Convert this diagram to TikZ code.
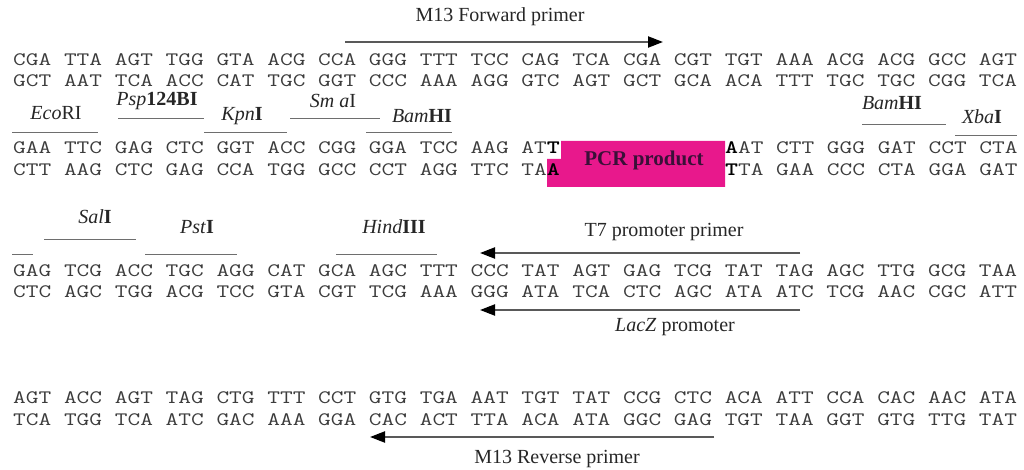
\documentclass[tikz,border=0pt]{standalone}
\usepackage{fontspec}
\usepackage{graphicx}
\setmainfont{Liberation Serif}
\usetikzlibrary{arrows.meta}
\definecolor{pcrpink}{HTML}{E8188C}
\definecolor{pcrtext}{HTML}{3A1038}
\definecolor{seqgray}{HTML}{3C3C3C}
\definecolor{linegray}{HTML}{6E6E6E}
\newcommand\dnarow[1]{\scalebox{1.2986}[1]{#1}}
\newcommand\bl[1]{\textbf{\color{black}#1}}
\begin{document}
\begin{tikzpicture}[x=1pt,y=-1pt,
  seq/.style={anchor=west,inner sep=0pt,font=\ttfamily\fontsize{19}{19}\selectfont,text=seqgray},
  lab/.style={inner sep=0pt,font=\fontsize{20}{20}\selectfont,text=black!85},
  site/.style={draw=linegray,line width=0.9pt},
  primer/.style={draw=black!65,line width=2.2pt,-{Triangle[length=15pt,width=11pt,color=black]}},
]
\useasboundingbox (0,0) rectangle (1024,470);

% ---------- row 1 ----------
\node[lab] (mflab) at (500,17) {M13 Forward primer};
\coordinate (mf0) at (345,42);
\coordinate (mf1) at (663,42);
\draw[primer] (mf0) -- (mf1);
\node[seq] (r1t) at (13,60) {\dnarow{CGA TTA AGT TGG GTA ACG CCA GGG TTT TCC CAG TCA CGA CGT TGT AAA ACG ACG GCC AGT}};
\node[seq] (r1b) at (13,81) {\dnarow{GCT AAT TCA ACC CAT TGC GGT CCC AAA AGG GTC AGT GCT GCA ACA TTT TGC TGC CGG TCA}};

% ---------- row 2 sites ----------
\node[lab] (eco) at (56,113) {\textit{Eco}RI};
\node[lab] (psp) at (157,101) {\textit{Psp}\textbf{124BI}};
\node[lab] (kpn) at (242,116) {\textit{Kpn}\textbf{I}};
\node[lab] (sma) at (333,101) {\textit{Sm a}I};
\node[lab] (bam1) at (422,116) {\textit{Bam}\textbf{HI}};
\node[lab] (bam2) at (892,103) {\textit{Bam}\textbf{HI}};
\node[lab] (xba) at (982,117) {\textit{Xba}\textbf{I}};
\draw[site] (12,132) -- (98,132);
\draw[site] (118,118) -- (204,118);
\draw[site] (204,132) -- (287,132);
\draw[site] (290,118) -- (380,118);
\draw[site] (366,132) -- (452,132);
\draw[site] (862,124) -- (946,124);
\draw[site] (955,135) -- (1017,135);

% ---------- row 2 with PCR product ----------
\fill[pcrpink] (561,141) -- (725,141) -- (725,187)
  -- (547,187) -- (547,159) -- (561,159) -- cycle;
\node[inner sep=0pt,font=\bfseries\fontsize{21}{21}\selectfont,text=pcrtext] (pcr) at (644,160) {PCR product};
\node[seq] (r2tl) at (13,148) {\dnarow{GAA TTC GAG CTC GGT ACC CGG GGA TCC AAG AT\bl{T}}};
\node[seq] (r2tr) at (724.9,148) {\dnarow{\bl{A}AT CTT GGG GAT CCT CTA}};
\node[seq] (r2bl) at (13,170) {\dnarow{CTT AAG CTC GAG CCA TGG GCC CCT AGG TTC TA\bl{A}}};
\node[seq] (r2br) at (724.9,170) {\dnarow{\bl{T}TA GAA CCC CTA GGA GAT}};

% ---------- row 3 ----------
\node[lab] (sal) at (95,217) {\textit{Sal}\textbf{I}};
\node[lab] (pst) at (197,227) {\textit{Pst}\textbf{I}};
\node[lab] (hind) at (394,227) {\textit{Hind}\textbf{III}};
\draw[site] (44,239) -- (136,239);
\draw[site] (12,254) -- (33,254);
\draw[site] (145,254) -- (237,254);
\draw[site] (336,254) -- (437,254);
\node[lab] (t7lab) at (664,232) {T7 promoter primer};
\coordinate (t70) at (800,253);
\coordinate (t71) at (480,253);
\draw[primer] (t70) -- (t71);
\node[seq] (r3t) at (13,271) {\dnarow{GAG TCG ACC TGC AGG CAT GCA AGC TTT CCC TAT AGT GAG TCG TAT TAG AGC TTG GCG TAA}};
\node[seq] (r3b) at (13,292) {\dnarow{CTC AGC TGG ACG TCC GTA CGT TCG AAA GGG ATA TCA CTC AGC ATA ATC TCG AAC CGC ATT}};
\coordinate (lz0) at (800,310);
\coordinate (lz1) at (480,310);
\draw[primer] (lz0) -- (lz1);
\node[lab] (lzlab) at (675,327) {\textit{LacZ} promoter};

% ---------- row 4 ----------
\node[seq] (r4t) at (13,398) {\dnarow{AGT ACC AGT TAG CTG TTT CCT GTG TGA AAT TGT TAT CCG CTC ACA ATT CCA CAC AAC ATA}};
\node[seq] (r4b) at (13,420) {\dnarow{TCA TGG TCA ATC GAC AAA GGA CAC ACT TTA ACA ATA GGC GAG TGT TAA GGT GTG TTG TAT}};
\coordinate (mr0) at (714,437);
\coordinate (mr1) at (370,437);
\draw[primer] (mr0) -- (mr1);
\node[lab] (mrlab) at (557,459) {M13 Reverse primer};
\end{tikzpicture}
\end{document}
